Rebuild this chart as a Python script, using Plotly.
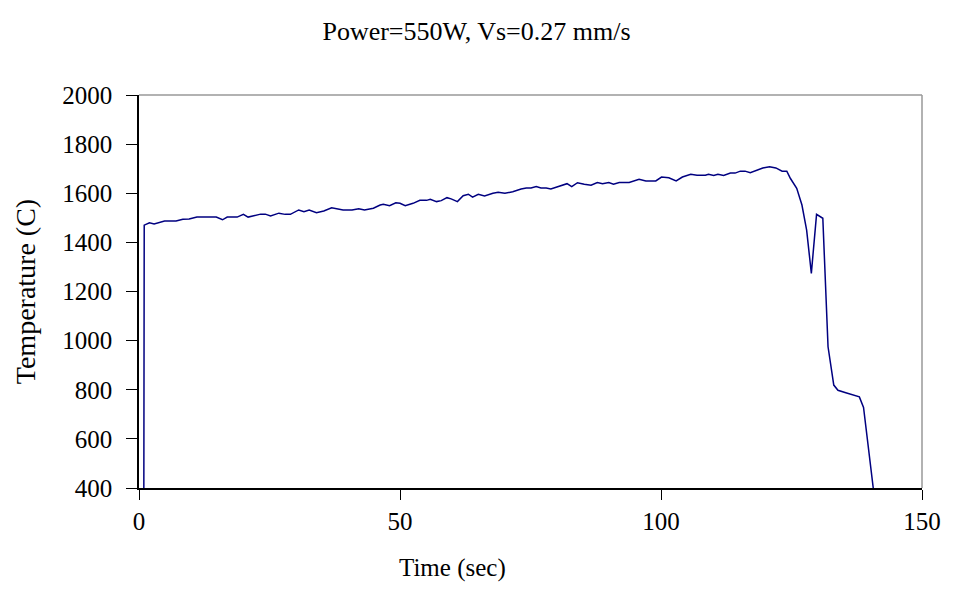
import plotly.graph_objects as go

# Time (sec) and temperature (C)
time_s = [0.9, 1.0, 2.0, 2.9, 4.9, 7.1, 8.4, 9.6, 11.1, 14.8, 16.0, 16.9, 18.8, 20.0, 20.9,
          23.3, 24.2, 25.2, 26.8, 28.0, 29.0, 30.6, 31.6, 32.6, 34.0, 35.4, 36.9, 39.1,
          40.8, 42.1, 43.2, 44.9, 46.2, 46.8, 48.0, 49.2, 50.0, 51.0, 52.5, 53.8, 55.1,
          55.8, 57.0, 57.9, 59.0, 59.8, 61.0, 62.1, 63.1, 63.9, 65.0, 66.2, 67.8, 68.8,
          70.1, 71.6, 73.2, 74.2, 75.1, 76.1, 77.0, 78.0, 78.9, 80.5, 82.0, 82.9, 84.0,
          85.3, 86.6, 87.8, 88.8, 90.0, 90.9, 92.0, 93.9, 95.8, 97.1, 99.0, 100.1, 101.5,
          102.9, 104.1, 105.7, 106.9, 108.5, 109.1, 110.1, 110.9, 112.0, 113.3, 114.2,
          115.2, 116.1, 117.1, 118.3, 119.5, 120.8, 122.0, 123.2, 124.1, 124.8, 126.0,
          127.0, 127.9, 128.8, 129.8, 131.0, 132.0, 133.1, 133.9, 135.4, 138.0, 138.8,
          141.0]
temp_c = [25, 1470, 1480, 1475, 1487, 1487, 1494, 1495, 1503, 1503, 1492, 1503, 1503, 1514,
          1503, 1515, 1515, 1508, 1519, 1514, 1514, 1532, 1525, 1532, 1521, 1528, 1541,
          1532, 1532, 1537, 1532, 1539, 1552, 1555, 1549, 1561, 1559, 1549, 1559, 1571,
          1571, 1575, 1566, 1570, 1582, 1577, 1566, 1590, 1596, 1584, 1596, 1589, 1600,
          1604, 1600, 1606, 1617, 1621, 1621, 1627, 1621, 1621, 1617, 1627, 1639, 1627,
          1643, 1637, 1633, 1644, 1639, 1644, 1637, 1644, 1644, 1657, 1650, 1650, 1666,
          1663, 1650, 1666, 1677, 1673, 1673, 1677, 1672, 1677, 1672, 1682, 1682, 1690,
          1690, 1684, 1693, 1703, 1708, 1703, 1690, 1690, 1660, 1620, 1552, 1450, 1274,
          1514, 1498, 975, 819, 798, 788, 771, 728, 340]

x_ticks = [0, 50, 100, 150]
y_ticks = [400, 600, 800, 1000, 1200, 1400, 1600, 1800, 2000]

FONT = "Liberation Serif, Times New Roman, serif"

fig = go.Figure()
fig.add_trace(go.Scatter(x=time_s, y=temp_c, mode="lines",
                         line=dict(color="#000080", width=1.5), showlegend=False,
                         cliponaxis=True))

fig.update_layout(
    width=953, height=606,
    margin=dict(l=139, r=26, t=95, b=118),
    paper_bgcolor="white", plot_bgcolor="white",
    font=dict(family=FONT, size=25, color="black"),
    title=dict(text="Power=550W, Vs=0.27 mm/s", x=0.5, xref="container", xanchor="center",
               y=1 - 31 / 606, yref="container", yanchor="middle",
               font=dict(family=FONT, size=26, color="black")),
    xaxis=dict(range=[0, 150], tickvals=x_ticks, ticks="outside", ticklen=10,
               tickcolor="black", tickwidth=1, showline=True, linecolor="black",
               linewidth=1.5, showgrid=False, zeroline=False,
               tickfont=dict(family=FONT, size=25, color="black")),
    yaxis=dict(range=[400, 2000], tickvals=y_ticks, ticks="outside", ticklen=11,
               tickcolor="black", tickwidth=1, showline=True, linecolor="black",
               linewidth=1.5, showgrid=False, zeroline=False, ticklabelstandoff=9,
               tickfont=dict(family=FONT, size=25, color="black")),
    shapes=[dict(type="line", xref="paper", yref="paper", x0=0, x1=1, y0=1, y1=1,
                 line=dict(color="#999999", width=1.5), layer="below"),
            dict(type="line", xref="paper", yref="paper", x0=1, x1=1, y0=0, y1=1,
                 line=dict(color="#999999", width=1.5), layer="below")],
    annotations=[
        dict(text="Time (sec)", xref="paper", yref="paper",
             x=(455 - 139) / 788, y=-(568 - 488) / 393, xanchor="center", yanchor="middle",
             showarrow=False, font=dict(family=FONT, size=25, color="black")),
        dict(text="Temperature (C)", xref="paper", yref="paper",
             x=-(139 - 25) / 788, y=0.5, xanchor="center", yanchor="middle", textangle=-90,
             showarrow=False, font=dict(family=FONT, size=28, color="black")),
    ],
)

fig.write_html("out.html")
